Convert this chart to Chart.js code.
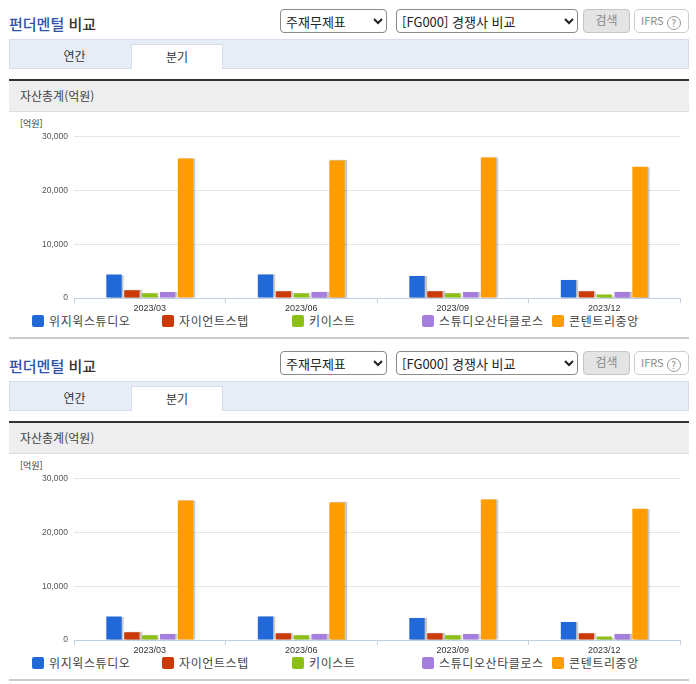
<!DOCTYPE html>
<html lang="ko">
<head>
<meta charset="utf-8">
<script src="https://cdn.jsdelivr.net/npm/chart.js@4"></script>
<style>
    html, body { margin: 0; padding: 0; background: #fff; }
    body { width: 696px; height: 684px; position: relative; overflow: hidden; font-family: "Noto Sans CJK KR", sans-serif; color: #333; }
    .panel { position: absolute; left: 0; width: 696px; height: 342px; }
    .panel > * { position: absolute; box-sizing: border-box; }
    .title { left: 9px; top: 14px; font-size: 15px; line-height: 20px; font-weight: 500; }
    .title b { color: #2f52a8; font-weight: 500; }
    select { height: 24px; top: 9px; background: #fff; border: 1px solid #8a8a8a; border-radius: 4px; font-family: "Noto Sans CJK KR", sans-serif; font-size: 13px; color: #222; padding-left: 1px; }
    .search { left: 583px; top: 9px; width: 47px; height: 24px; background: #e4e4e4; border: 1px solid #c4c4c4; border-radius: 4px; font-size: 12px; color: #888; text-align: center; line-height: 20px; }
    .ifrs { left: 634px; top: 9px; width: 55px; height: 24px; background: #fff; border: 1px solid #ccc; border-radius: 5px; font-size: 11px; color: #888; line-height: 21px; padding-left: 6px; white-space: nowrap; }
    .ifrs i { display: inline-block; width: 14px; height: 14px; box-sizing: border-box; border: 1px solid #999; border-radius: 50%; font-style: normal; font-size: 10px; line-height: 12px; text-align: center; margin-left: 3px; vertical-align: -2px; }
    .tabs { left: 9px; top: 39px; width: 680px; height: 30px; background: #e6edf7; border: 1px solid #d5deea; }
    .tab { top: 39px; height: 30px; font-size: 12px; line-height: 34px; text-align: center; color: #333; }
    .tab.on { left: 131px; width: 92px; top: 44px; height: 25px; line-height: 24px; background: #fff; border: 1px solid #d5deea; border-bottom: 0; }
    .heading { left: 9px; top: 79px; width: 680px; height: 33px; background: #eee; border-top: 2px solid #333; border-bottom: 1px solid #ddd; font-size: 12px; line-height: 30px; padding-left: 11px; color: #444; }
    .unit { left: 20px; top: 117px; font-size: 9px; line-height: 14px; color: #333; }
    canvas { position: absolute; left: 10px; top: 115px; }
    .legend-item { top: 307px; height: 28px; font-size: 12px; line-height: 28px; color: #444; white-space: nowrap; padding-left: 17px; letter-spacing: 0.6px; }
    .legend-item span { position: absolute; left: 0; top: 8px; width: 12px; height: 12px; border-radius: 2px; }
    .rule { left: 9px; top: 337px; width: 680px; height: 2px; background: #ccc; }
</style>
</head>
<body>
<script>
const categories = ['2023/03', '2023/06', '2023/09', '2023/12'];
const seriesNames = ['위지윅스튜디오', '자이언트스텝', '키이스트', '스튜디오산타클로스', '콘텐트리중앙'];
const seriesColors = ['#2168d8', '#cc3a0a', '#8cc016', '#a67ede', '#ff9c00'];
const wysiwygValues = [4350, 4380, 4080, 3350];
const giantstepValues = [1450, 1250, 1250, 1250];
const keyeastValues = [900, 900, 900, 650];
const santaValues = [1100, 1100, 1100, 1100];
const contentreeValues = [25900, 25550, 26100, 24400];
const yTicks = [0, 10000, 20000, 30000];

const seriesValues = [wysiwygValues, giantstepValues, keyeastValues, santaValues, contentreeValues];
const legendLefts = [32, 162, 292, 422, 552];

// gray edge on the right side of each bar
const barShadow = {
    id: 'barShadow',
    beforeDatasetsDraw(chart) {
        chart.ctx.save();
        chart.ctx.shadowColor = 'rgba(0, 0, 0, 0.22)';
        chart.ctx.shadowOffsetX = 2;
        chart.ctx.shadowOffsetY = 0;
        chart.ctx.shadowBlur = 1;
    },
    afterDatasetsDraw(chart) {
        chart.ctx.restore();
    }
};

function addPanel(top) {
    const panel = document.createElement('div');
    panel.className = 'panel';
    panel.style.top = top + 'px';
    panel.innerHTML = `
        <div class="title"><b>펀더멘털</b> 비교</div>
        <select style="left:280px;width:107px"><option>주재무제표</option></select>
        <select style="left:396px;width:182px"><option>[FG000] 경쟁사 비교</option></select>
        <div class="search">검색</div>
        <div class="ifrs">IFRS<i>?</i></div>
        <div class="tabs"></div>
        <div class="tab" style="left:14px;width:121px">연간</div>
        <div class="tab on">분기</div>
        <div class="heading">자산총계(억원)</div>
        <div class="unit">[억원]</div>
        <div class="rule"></div>`;

    seriesNames.forEach((name, i) => {
        const item = document.createElement('div');
        item.className = 'legend-item';
        item.style.left = (legendLefts[i]) + 'px';
        item.innerHTML = `<span style="background:${seriesColors[i]}"></span>${name}`;
        panel.appendChild(item);
    });

    const canvas = document.createElement('canvas');
    canvas.width = 680;
    canvas.height = 200;
    panel.appendChild(canvas);
    document.body.appendChild(panel);

    new Chart(canvas.getContext('2d'), {
        type: 'bar',
        data: {
            labels: categories,
            datasets: seriesNames.map((name, i) => ({
                label: name,
                data: seriesValues[i],
                backgroundColor: seriesColors[i],
                barPercentage: 0.86,
                categoryPercentage: 0.59
            }))
        },
        options: {
            responsive: false,
            animation: false,
            layout: { padding: { top: 21.5, right: 10, left: 0, bottom: 0 } },
            plugins: {
                legend: { display: false },
                title: { display: false },
                tooltip: { enabled: false }
            },
            scales: {
                y: {
                    min: yTicks[0],
                    max: yTicks[yTicks.length - 1],
                    afterFit: scale => { scale.width = 64; },
                    afterBuildTicks: scale => { scale.ticks = yTicks.map(value => ({ value })); },
                    border: { display: false },
                    grid: { color: '#e6e6e6', drawTicks: false },
                    ticks: {
                        color: '#555',
                        padding: 6,
                        font: { family: 'Liberation Sans', size: 8.5 },
                        callback: value => value.toLocaleString('en-US')
                    }
                },
                x: {
                    afterFit: scale => { scale.height = 17; },
                    border: { color: '#c0d0e0' },
                    grid: { drawOnChartArea: false, offset: true, color: '#c0d0e0', tickLength: 5 },
                    ticks: {
                        color: '#333',
                        padding: 0,
                        maxRotation: 0,
                        font: { family: 'Liberation Sans', size: 9 }
                    }
                }
            }
        },
        plugins: [barShadow]
    });
}

addPanel(0);
addPanel(342);
</script>
</body>
</html>
